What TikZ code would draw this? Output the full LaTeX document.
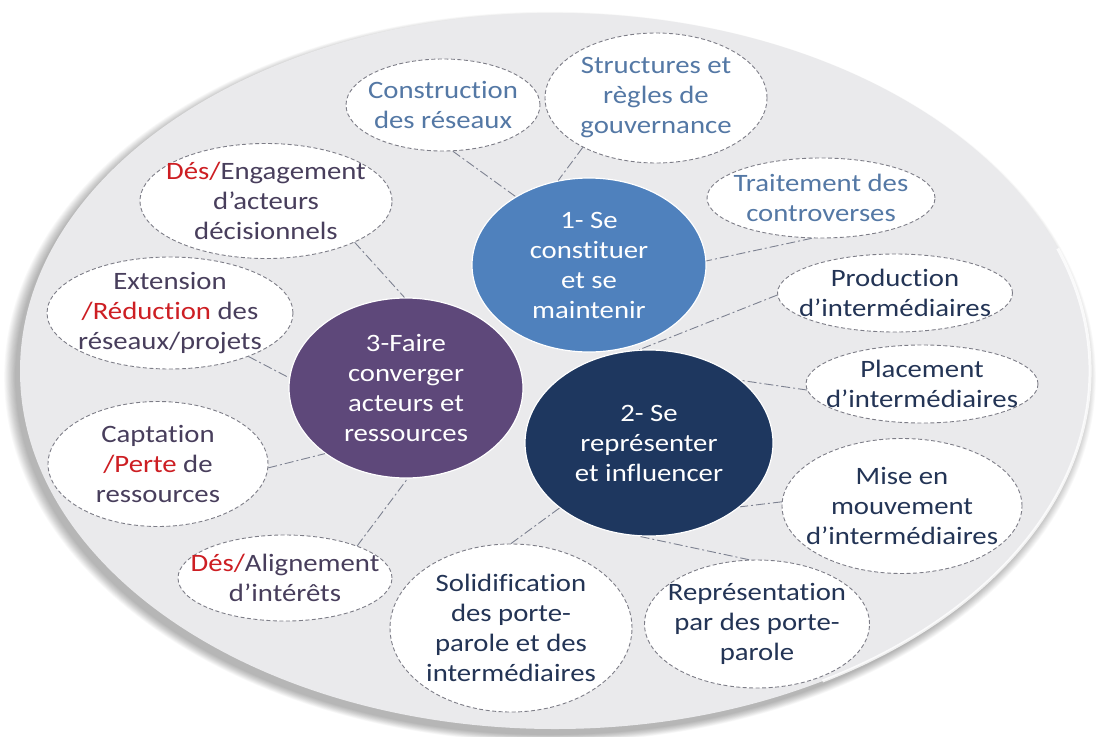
\documentclass[tikz,border=0pt]{standalone}
\usepackage{fontspec}
\setmainfont{Carlito}[FakeStretch=1.15, Ligatures={NoCommon}]
\usetikzlibrary{shapes.geometric}
\definecolor{bgc}{RGB}{234,234,236}
\definecolor{hubA}{RGB}{79,129,189}
\definecolor{hubB}{RGB}{30,55,95}
\definecolor{hubC}{RGB}{94,72,122}
\definecolor{topc}{RGB}{84,120,165}
\definecolor{rightc}{RGB}{35,52,85}
\definecolor{leftc}{RGB}{72,62,92}
\definecolor{redc}{RGB}{205,30,35}
\definecolor{satline}{RGB}{125,125,135}
\definecolor{connc}{RGB}{125,130,145}
\tikzset{
  sat/.style={ellipse, draw=satline, dash pattern=on 4pt off 2.5pt, line width=0.9pt,
    fill=white, inner sep=-200pt, align=center, font=\fontsize{25}{30}\selectfont},
  hub/.style={ellipse, draw=white, line width=1.2pt, inner sep=-200pt, align=center,
    text=white, font=\fontsize{25}{30}\selectfont},
  conn/.style={draw=connc, line width=0.9pt, dash pattern=on 9pt off 3pt on 2pt off 3pt},
}
\newcommand{\rd}[1]{{\color{redc}#1}}
\begin{document}
\begin{tikzpicture}[x=1pt,y=-1pt]
\useasboundingbox (0,0) rectangle (1099,736);
\fill[white] (0,0) rectangle (1099,736);
% shadow of the disc
\foreach \k in {0,...,12}{
  \fill[black, opacity=0.024] (550,377) ellipse [x radius=535+\k*0.9, y radius=358+\k*0.6];
}
\fill[bgc] (555,371) ellipse [x radius=535, y radius=358];
\draw[white, line width=3pt, opacity=0.8] (555,371) ++(60:535 and 358) arc [start angle=60, end angle=-20, x radius=535, y radius=358];

% hubs
\node[hub, fill=hubA, minimum width=234, minimum height=174] (c1) at (589,265) {1- Se\\constituer\\et se\\maintenir};
\node[hub, fill=hubB, minimum width=248, minimum height=186] (c2) at (649,443) {2- Se\\représenter\\et influencer};
\node[hub, fill=hubC, minimum width=234, minimum height=180] (c3) at (406,388) {3-Faire\\converger\\acteurs et\\ressources};

% satellites of hub 1
\node[sat, text=topc, minimum width=194, minimum height=92] (s1) at (443,105) {Construction\\des réseaux};
\node[sat, text=topc, minimum width=222, minimum height=130] (s2) at (656,98) {Structures et\\règles de\\gouvernance};
\node[sat, text=topc, minimum width=228, minimum height=80] (s3) at (821,198) {Traitement des\\controverses};

% satellites of hub 2
\node[sat, text=rightc, minimum width=235, minimum height=78] (s4) at (895,293) {Production\\d’intermédiaires};
\node[sat, text=rightc, minimum width=232, minimum height=78] (s5) at (922,384) {Placement\\d’intermédiaires};
\node[sat, text=rightc, minimum width=240, minimum height=135] (s6) at (902,506) {Mise en\\mouvement\\d’intermédiaires};
\node[sat, text=rightc, minimum width=225, minimum height=128] (s7) at (757,624) {Représentation\\par des porte-\\parole};
\node[sat, text=rightc, minimum width=242, minimum height=168] (s8) at (511,628) {Solidification\\des porte-\\parole et des\\intermédiaires};

% satellites of hub 3
\node[sat, text=leftc, minimum width=214, minimum height=86] (s9) at (285,578) {\rd{Dés/}Alignement\\d’intérêts};
\node[sat, text=leftc, minimum width=220, minimum height=125] (s10) at (158,464) {Captation\\\rd{/Perte} de\\ressources};
\node[sat, text=leftc, minimum width=246, minimum height=112] (s11) at (170,313) {Extension\\\rd{/Réduction} des\\réseaux/projets};
\node[sat, text=leftc, minimum width=252, minimum height=115] (s12) at (266,201) {\rd{Dés/}Engagement\\d’acteurs\\décisionnels};

% connectors
\draw[conn] (s1.-78) -- (c1.137);
\draw[conn] (s2.214) -- (c1.110);
\draw[conn] (s3.-103) -- (c1.2);
\draw[conn] (s4.181) -- (c2.96);
\draw[conn] (s5.183) -- (c2.34);
\draw[conn] (s6.178) -- (c2.-35);
\draw[conn] (s7.97) -- (c2.-96);
\draw[conn] (s8.90) -- (c2.216);
\draw[conn] (s9.24) -- (c3.-89);
\draw[conn] (s10.-2) -- (c3.219);
\draw[conn] (s11.-29) -- (c3.175);
\draw[conn] (s12.-25) -- (c3.91);
\end{tikzpicture}
\end{document}
